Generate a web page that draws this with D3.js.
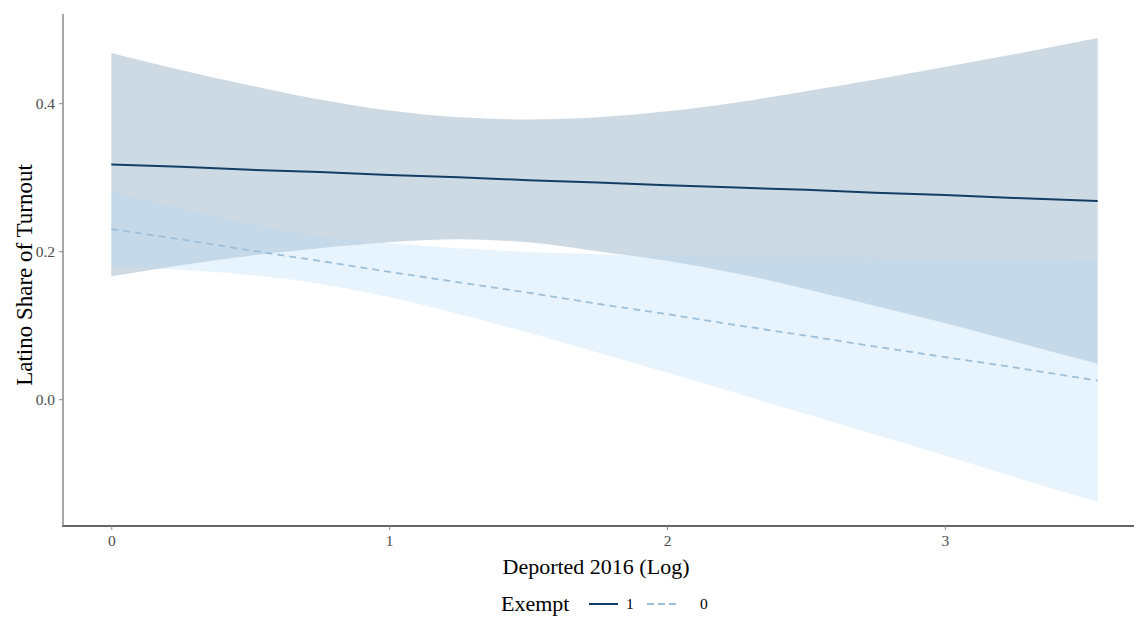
<!DOCTYPE html>
<html>
<head>
<meta charset="utf-8">
<script src="https://cdn.jsdelivr.net/npm/d3@7"></script>
<style>
body{margin:0;background:#fff;}
</style>
</head>
<body>
<script>
// predicted values
var xs=[0,0.25,0.5,0.75,1,1.25,1.5,1.75,2,2.25,2.5,2.75,3,3.25,3.55];
var fit1=[0.317,0.314,0.310,0.307,0.303,0.300,0.296,0.293,0.289,0.286,0.283,0.279,0.276,0.272,0.268];
var lo1=[0.166,0.181,0.194,0.204,0.212,0.216,0.212,0.200,0.187,0.170,0.149,0.126,0.103,0.078,0.048];
var hi1=[0.468,0.445,0.424,0.405,0.390,0.381,0.378,0.381,0.389,0.401,0.416,0.432,0.449,0.466,0.488];
var fit0=[0.230,0.216,0.201,0.187,0.172,0.158,0.144,0.129,0.115,0.100,0.086,0.071,0.057,0.043,0.025];
var lo0=[0.179,0.175,0.168,0.156,0.138,0.115,0.090,0.063,0.036,0.008,-0.020,-0.048,-0.076,-0.105,-0.139];
var hi0=[0.281,0.258,0.237,0.220,0.211,0.204,0.199,0.196,0.194,0.192,0.192,0.191,0.190,0.190,0.189];
var xTicks=[0,1,2,3];
var yTicks=[0.0,0.2,0.4];
var groups=["1","0"];

var width=1134;
var height=620;
var font="'Liberation Serif','Times New Roman',serif";

var svg=d3.select("body").append("svg")
          .attr("width",width)
          .attr("height",height)
          .style("background-color","#fff");

var x=d3.scaleLinear().domain([-0.1775,3.7275]).range([62,1147]);
var y=d3.scaleLinear().domain([-0.17,0.52]).range([525,14.4]);

var rows=xs.map(function(d,i){
  return {x:d,fit1:fit1[i],lo1:lo1[i],hi1:hi1[i],fit0:fit0[i],lo0:lo0[i],hi0:hi0[i]};
});

var band=function(lo,hi){
  return d3.area()
           .x(function(d){return x(d.x);})
           .y0(function(d){return y(d[lo]);})
           .y1(function(d){return y(d[hi]);})
           .curve(d3.curveMonotoneX);
};
var line=function(k){
  return d3.line()
           .x(function(d){return x(d.x);})
           .y(function(d){return y(d[k]);});
};

svg.append("path")
   .datum(rows)
   .attr("d",band("lo1","hi1"))
   .attr("fill","rgb(88,128,162)")
   .attr("fill-opacity",0.3);

svg.append("path")
   .datum(rows)
   .attr("d",band("lo0","hi0"))
   .attr("fill","rgb(178,218,248)")
   .attr("fill-opacity",0.3);

svg.append("path")
   .datum(rows)
   .attr("d",line("fit1"))
   .attr("fill","none")
   .attr("stroke","#123e66")
   .attr("stroke-width",2);

svg.append("path")
   .datum(rows)
   .attr("d",line("fit0"))
   .attr("fill","none")
   .attr("stroke","#9dbfd9")
   .attr("stroke-width",1.8)
   .attr("stroke-dasharray","7,5");

// axes
var xAxis=svg.append("g")
             .attr("transform","translate(0,526)")
             .call(d3.axisBottom(x).tickValues(xTicks).tickFormat(d3.format("d")).tickSize(4).tickPadding(5));
xAxis.select(".domain").attr("stroke","#333").attr("stroke-width",1.3).attr("d","M62,0H1134");
xAxis.selectAll(".tick line").attr("stroke","#888");
xAxis.selectAll("text").attr("fill","#4d4d4d").attr("font-size",15.5).attr("font-family",font);

var yAxis=svg.append("g")
             .attr("transform","translate(63,0)")
             .call(d3.axisLeft(y).tickValues(yTicks).tickFormat(d3.format(".1f")).tickSize(4).tickPadding(4));
yAxis.select(".domain").attr("stroke","#888").attr("stroke-width",1.5).attr("d","M0,14V526");
yAxis.selectAll(".tick line").attr("stroke","#888");
yAxis.selectAll("text").attr("fill","#4d4d4d").attr("font-size",15.5).attr("font-family",font);

svg.append("text")
   .text("Deported 2016 (Log)")
   .attr("x",596)
   .attr("y",574)
   .attr("text-anchor","middle")
   .attr("font-size",22)
   .attr("font-family",font)
   .attr("fill","#000");

svg.append("text")
   .text("Latino Share of Turnout")
   .attr("transform","translate(32,275) rotate(-90)")
   .attr("text-anchor","middle")
   .attr("font-size",23)
   .attr("font-family",font)
   .attr("fill","#000");

// legend
var keyX=[589,647];
var labX=[626,700];
var legend=svg.append("g").attr("transform","translate(0,604)");
legend.append("text")
      .text("Exempt")
      .attr("x",501)
      .attr("y",7)
      .attr("font-size",22)
      .attr("font-family",font)
      .attr("fill","#000");
legend.selectAll("line")
      .data(groups)
      .enter()
      .append("line")
      .attr("x1",function(d,i){return keyX[i];})
      .attr("x2",function(d,i){return keyX[i]+29;})
      .attr("y1",0)
      .attr("y2",0)
      .attr("stroke",function(d){return d=="1"?"#123e66":"#9dbfd9";})
      .attr("stroke-width",function(d){return d=="1"?2:1.8;})
      .attr("stroke-dasharray",function(d){return d=="1"?null:"7,4";});
legend.selectAll(".lab")
      .data(groups)
      .enter()
      .append("text")
      .attr("class","lab")
      .text(function(d){return d;})
      .attr("x",function(d,i){return labX[i];})
      .attr("y",5)
      .attr("font-size",15.5)
      .attr("font-family",font)
      .attr("fill","#000");
</script>
</body>
</html>
